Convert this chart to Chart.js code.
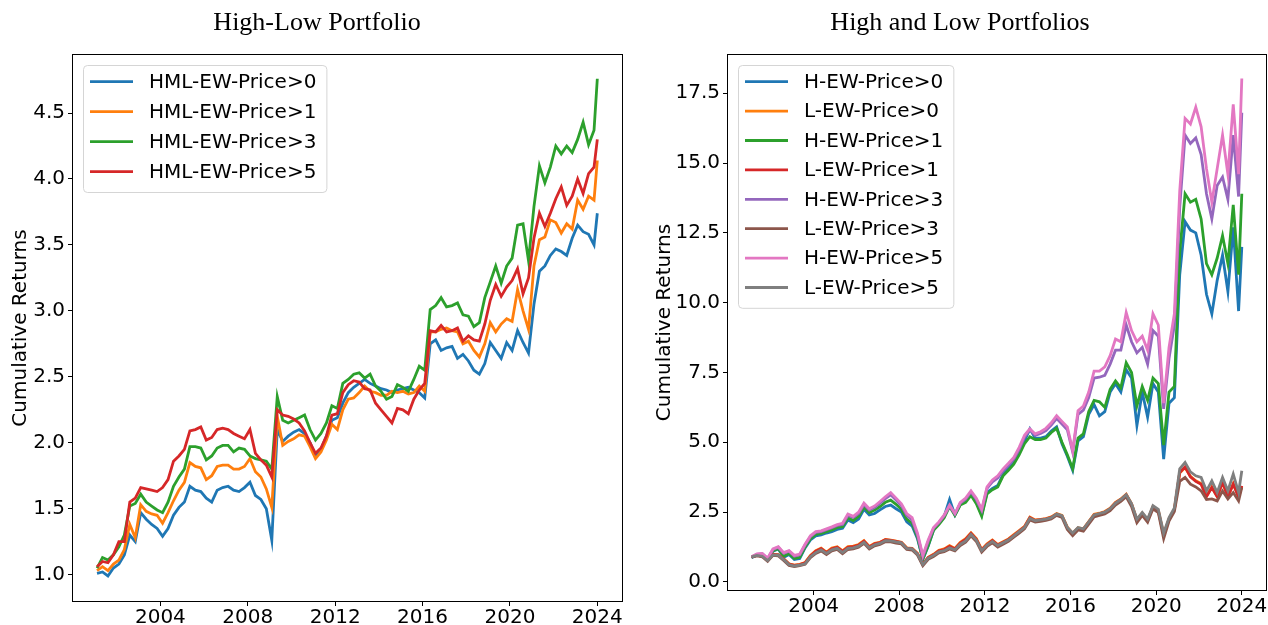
<!DOCTYPE html>
<html>
<head>
<meta charset="utf-8">
<script src="https://cdn.jsdelivr.net/npm/chart.js@4.4.1/dist/chart.umd.min.js"></script>
<style>
  html, body { margin: 0; padding: 0; background: #fff; }
  #wrap { position: relative; width: 1268px; height: 625px; }
  .panel { position: absolute; top: 0; width: 634px; height: 625px; }
</style>
</head>
<body>
<div id="wrap">
  <div class="panel" style="left:0"><canvas id="hmlChart" width="634" height="625"></canvas></div>
  <div class="panel" style="left:634px"><canvas id="hlChart" width="634" height="625"></canvas></div>
</div>
<script>
// quarterly observation dates (decimal years)
const dates = [
  2001.1, 2001.35, 2001.6, 2001.85, 2002.1, 2002.35, 2002.6, 2002.85,
  2003.1, 2003.35, 2003.6, 2003.85, 2004.1, 2004.35, 2004.6, 2004.85,
  2005.1, 2005.35, 2005.6, 2005.85, 2006.1, 2006.35, 2006.6, 2006.85,
  2007.1, 2007.35, 2007.6, 2007.85, 2008.1, 2008.35, 2008.6, 2008.85,
  2009.1, 2009.35, 2009.6, 2009.85, 2010.1, 2010.35, 2010.6, 2010.85,
  2011.1, 2011.35, 2011.6, 2011.85, 2012.1, 2012.35, 2012.6, 2012.85,
  2013.1, 2013.35, 2013.6, 2013.85, 2014.1, 2014.35, 2014.6, 2014.85,
  2015.1, 2015.35, 2015.6, 2015.85, 2016.1, 2016.35, 2016.6, 2016.85,
  2017.1, 2017.35, 2017.6, 2017.85, 2018.1, 2018.35, 2018.6, 2018.85,
  2019.1, 2019.35, 2019.6, 2019.85, 2020.1, 2020.35, 2020.6, 2020.85,
  2021.1, 2021.35, 2021.6, 2021.85, 2022.1, 2022.35, 2022.6, 2022.85,
  2023.1, 2023.35, 2023.6, 2023.85, 2024.0
];

const xTicks = [2004, 2008, 2012, 2016, 2020, 2024];
const hmlYTicks = [1.0, 1.5, 2.0, 2.5, 3.0, 3.5, 4.0, 4.5];
const hlYTicks = [0.0, 2.5, 5.0, 7.5, 10.0, 12.5, 15.0, 17.5];

// left panel: high-minus-low
const hmlLabels = ['HML-EW-Price>0', 'HML-EW-Price>1', 'HML-EW-Price>3', 'HML-EW-Price>5'];
const hmlP0 = [
  1.01, 1.02, 0.99, 1.05, 1.08, 1.15, 1.30, 1.25, 1.47, 1.42, 1.38, 1.35,
  1.29, 1.35, 1.45, 1.51, 1.55, 1.67, 1.64, 1.63, 1.58, 1.55, 1.64, 1.66,
  1.67, 1.64, 1.63, 1.66, 1.70, 1.60, 1.57, 1.50, 1.26, 2.10, 2.01, 2.05,
  2.08, 2.10, 2.07, 2.00, 1.90, 1.95, 2.05, 2.17, 2.19, 2.30, 2.38, 2.42,
  2.45, 2.48, 2.45, 2.43, 2.41, 2.40, 2.38, 2.40, 2.41, 2.42, 2.40, 2.38,
  2.34, 2.75, 2.78, 2.70, 2.72, 2.73, 2.64, 2.67, 2.62, 2.55, 2.52, 2.60,
  2.76, 2.70, 2.64, 2.76, 2.70, 2.85, 2.76, 2.68, 3.05, 3.30, 3.34, 3.42,
  3.47, 3.45, 3.42, 3.55, 3.65, 3.60, 3.58, 3.50, 3.74
];
const hmlP1 = [
  1.03, 1.06, 1.03, 1.08, 1.11, 1.19, 1.38, 1.28, 1.53, 1.48, 1.46, 1.45,
  1.39, 1.47, 1.56, 1.64, 1.70, 1.85, 1.82, 1.81, 1.72, 1.75, 1.82, 1.83,
  1.83, 1.80, 1.80, 1.82, 1.88, 1.78, 1.74, 1.65, 1.51, 2.20, 1.98, 2.01,
  2.03, 2.06, 2.05, 1.97, 1.88, 1.93, 2.02, 2.14, 2.10, 2.25, 2.33, 2.34,
  2.38, 2.43, 2.39, 2.38, 2.36, 2.36, 2.39, 2.38, 2.39, 2.37, 2.38, 2.43,
  2.39, 2.84, 2.84, 2.86, 2.87, 2.85, 2.84, 2.75, 2.77, 2.70, 2.65, 2.75,
  2.91, 2.84, 2.90, 2.94, 2.92, 3.16, 3.00, 2.86, 3.34, 3.54, 3.56, 3.69,
  3.67, 3.59, 3.66, 3.62, 3.84, 3.77, 3.87, 3.84, 4.14
];
const hmlP3 = [
  1.05, 1.13, 1.11, 1.15, 1.21, 1.30, 1.52, 1.54, 1.61, 1.55, 1.52, 1.49,
  1.47, 1.55, 1.67, 1.74, 1.80, 1.97, 1.97, 1.96, 1.87, 1.90, 1.96, 1.98,
  1.98, 1.93, 1.96, 1.95, 1.90, 1.88, 1.87, 1.86, 1.80, 2.35, 2.17, 2.15,
  2.17, 2.19, 2.21, 2.10, 2.02, 2.07, 2.15, 2.28, 2.26, 2.45, 2.48, 2.52,
  2.53, 2.49, 2.52, 2.43, 2.39, 2.33, 2.35, 2.44, 2.42, 2.39, 2.48, 2.58,
  2.55, 3.01, 3.04, 3.10, 3.03, 3.04, 3.06, 2.97, 2.96, 2.88, 2.91, 3.10,
  3.22, 3.34, 3.21, 3.34, 3.40, 3.65, 3.66, 3.38, 3.79, 4.10, 3.97, 4.09,
  4.25, 4.19, 4.25, 4.20, 4.30, 4.43, 4.26, 4.37, 4.76
];
const hmlP5 = [
  1.06, 1.10, 1.09, 1.15, 1.25, 1.25, 1.55, 1.58, 1.66, 1.65, 1.64, 1.63,
  1.66, 1.72, 1.86, 1.90, 1.95, 2.09, 2.10, 2.12, 2.02, 2.04, 2.10, 2.11,
  2.10, 2.07, 2.05, 2.03, 2.10, 1.92, 1.87, 1.83, 1.74, 2.25, 2.21, 2.20,
  2.18, 2.15, 2.09, 2.00, 1.92, 1.96, 2.05, 2.21, 2.22, 2.38, 2.44, 2.47,
  2.46, 2.41, 2.40, 2.30, 2.25, 2.20, 2.15, 2.26, 2.25, 2.22, 2.33, 2.40,
  2.45, 2.85, 2.84, 2.89, 2.84, 2.85, 2.87, 2.77, 2.81, 2.78, 2.77, 2.90,
  3.08, 3.20, 3.11, 3.18, 3.23, 3.32, 3.13, 3.25, 3.55, 3.74, 3.64, 3.74,
  3.85, 3.94, 3.80, 3.87, 4.00, 3.89, 4.04, 4.09, 4.30
];

// right panel: high and low legs
const hlLabels = ['H-EW-Price>0', 'L-EW-Price>0', 'H-EW-Price>1', 'L-EW-Price>1',
                  'H-EW-Price>3', 'L-EW-Price>3', 'H-EW-Price>5', 'L-EW-Price>5'];
const hlH0 = [
  0.87, 0.96, 0.97, 0.79, 1.10, 1.18, 0.88, 0.98, 0.80, 0.84, 1.22, 1.50,
  1.65, 1.68, 1.75, 1.80, 1.88, 1.92, 2.22, 2.12, 2.25, 2.60, 2.40, 2.45,
  2.58, 2.70, 2.75, 2.62, 2.50, 2.15, 2.00, 1.55, 0.80, 1.28, 1.85, 2.10,
  2.35, 2.95, 2.40, 2.78, 2.90, 3.15, 2.85, 2.40, 3.20, 3.35, 3.45, 3.85,
  4.05, 4.28, 4.62, 5.05, 5.48, 5.15, 5.15, 5.20, 5.40, 5.55, 4.95, 4.50,
  4.00, 5.05, 5.20, 6.00, 6.35, 5.95, 6.10, 6.80, 7.10, 6.80, 7.60, 7.30,
  5.60, 6.80, 5.90, 7.10, 6.80, 4.40, 6.40, 6.60, 11.0, 12.9, 12.6, 12.5,
  11.7, 10.3, 9.6, 10.8, 11.7, 10.4, 12.7, 9.7, 12.0
];
const hlL0 = [
  0.91, 0.96, 0.93, 0.77, 0.99, 0.98, 0.83, 0.65, 0.60, 0.63, 0.69, 0.95,
  1.12, 1.21, 1.07, 1.21, 1.26, 1.11, 1.26, 1.28, 1.34, 1.48, 1.27, 1.38,
  1.42, 1.52, 1.50, 1.46, 1.42, 1.22, 1.20, 1.02, 0.64, 0.88, 0.99, 1.13,
  1.18, 1.30, 1.20, 1.42, 1.55, 1.76, 1.55, 1.16, 1.36, 1.50, 1.34, 1.44,
  1.54, 1.69, 1.84, 1.99, 2.32, 2.22, 2.24, 2.27, 2.33, 2.45, 2.38, 1.96,
  1.74, 1.94, 1.90, 2.16, 2.42, 2.46, 2.52, 2.64, 2.85, 2.97, 3.14, 2.80,
  2.22, 2.47, 2.22, 2.70, 2.56, 1.70, 2.26, 2.60, 3.90, 4.10, 3.78, 3.62,
  3.52, 3.08, 3.40, 3.06, 3.56, 3.06, 3.52, 3.05, 3.42
];
const hlH1 = [
  0.88, 0.97, 0.98, 0.80, 1.12, 1.20, 0.92, 1.02, 0.84, 0.88, 1.25, 1.55,
  1.70, 1.74, 1.80, 1.86, 1.95, 1.98, 2.30, 2.20, 2.35, 2.68, 2.48, 2.57,
  2.70, 2.85, 2.93, 2.78, 2.60, 2.25, 2.10, 1.60, 0.82, 1.30, 1.85, 2.05,
  2.30, 2.70, 2.38, 2.75, 2.85, 3.10, 2.80, 2.35, 3.15, 3.30, 3.40, 3.80,
  4.00, 4.22, 4.55, 4.95, 5.20, 5.10, 5.10, 5.15, 5.35, 5.50, 5.00, 4.55,
  4.05, 5.15, 5.30, 6.10, 6.50, 6.45, 6.25, 6.90, 7.20, 6.95, 7.85, 7.50,
  6.30, 7.00, 6.50, 7.30, 7.10, 4.90, 6.80, 7.00, 11.8, 13.9, 13.6, 13.7,
  13.0, 11.4, 11.0, 11.6, 12.4, 11.4, 13.5, 11.0, 13.9
];
const hlL1 = [
  0.90, 0.95, 0.92, 0.76, 0.98, 0.97, 0.82, 0.64, 0.59, 0.62, 0.68, 0.93,
  1.10, 1.19, 1.05, 1.19, 1.24, 1.09, 1.24, 1.26, 1.32, 1.46, 1.25, 1.36,
  1.41, 1.51, 1.49, 1.45, 1.41, 1.21, 1.19, 1.01, 0.63, 0.87, 0.97, 1.11,
  1.16, 1.27, 1.18, 1.39, 1.52, 1.74, 1.53, 1.14, 1.34, 1.48, 1.32, 1.42,
  1.52, 1.67, 1.82, 1.97, 2.30, 2.20, 2.23, 2.26, 2.31, 2.43, 2.36, 1.94,
  1.72, 1.92, 1.88, 2.14, 2.40, 2.44, 2.50, 2.62, 2.83, 2.95, 3.12, 2.78,
  2.20, 2.45, 2.20, 2.68, 2.54, 1.66, 2.24, 2.58, 3.92, 4.12, 3.76, 3.60,
  3.50, 3.05, 3.38, 3.05, 3.56, 3.05, 3.50, 3.04, 3.44
];
const hlH3 = [
  0.89, 0.99, 1.01, 0.84, 1.16, 1.24, 1.02, 1.10, 0.92, 0.97, 1.32, 1.62,
  1.77, 1.80, 1.87, 1.94, 2.02, 2.06, 2.38, 2.31, 2.45, 2.77, 2.57, 2.67,
  2.82, 2.98, 3.12, 2.93, 2.73, 2.38, 2.22, 1.68, 0.90, 1.45, 1.92, 2.12,
  2.37, 2.72, 2.43, 2.82, 2.96, 3.22, 2.95, 2.55, 3.35, 3.58, 3.72, 3.98,
  4.18, 4.40, 4.75, 5.18, 5.45, 5.25, 5.32, 5.42, 5.62, 5.85, 5.65, 5.45,
  4.65, 6.00, 6.15, 6.60, 7.30, 7.33, 7.40, 7.80, 8.30, 8.30, 9.20, 8.60,
  8.20, 8.40, 7.80, 9.00, 8.80, 6.20, 8.00, 9.20, 13.4, 16.0, 15.7, 15.9,
  15.3, 13.9, 13.0, 14.2, 14.5, 13.7, 16.0, 13.8, 16.8
];
const hlL3 = [
  0.89, 0.93, 0.90, 0.74, 0.95, 0.93, 0.77, 0.59, 0.55, 0.58, 0.63, 0.87,
  1.02, 1.11, 0.98, 1.11, 1.16, 1.01, 1.16, 1.18, 1.24, 1.38, 1.18, 1.29,
  1.34, 1.44, 1.43, 1.39, 1.36, 1.16, 1.14, 0.96, 0.58, 0.81, 0.91, 1.04,
  1.08, 1.18, 1.11, 1.30, 1.42, 1.65, 1.45, 1.07, 1.27, 1.40, 1.25, 1.35,
  1.45, 1.60, 1.75, 1.90, 2.22, 2.14, 2.17, 2.20, 2.25, 2.38, 2.31, 1.88,
  1.66, 1.86, 1.82, 2.07, 2.33, 2.38, 2.43, 2.55, 2.75, 2.88, 3.05, 2.70,
  2.12, 2.38, 2.14, 2.62, 2.48, 1.55, 2.18, 2.52, 3.60, 3.74, 3.50, 3.40,
  3.26, 2.95, 2.97, 2.90, 3.26, 2.97, 3.20, 2.90, 3.38
];
const hlH5 = [
  0.90, 1.00, 1.02, 0.85, 1.18, 1.26, 1.05, 1.12, 0.95, 1.00, 1.35, 1.65,
  1.80, 1.83, 1.90, 1.97, 2.05, 2.10, 2.43, 2.35, 2.50, 2.82, 2.62, 2.72,
  2.88, 3.05, 3.20, 3.00, 2.80, 2.45, 2.30, 1.75, 0.95, 1.50, 1.95, 2.15,
  2.40, 2.75, 2.45, 2.85, 3.00, 3.26, 3.00, 2.60, 3.40, 3.65, 3.80, 4.05,
  4.25, 4.46, 4.82, 5.25, 5.48, 5.30, 5.38, 5.50, 5.70, 5.95, 5.75, 5.55,
  4.70, 6.13, 6.30, 6.80, 7.55, 7.55, 7.70, 8.10, 8.70, 8.60, 9.65, 9.00,
  8.60, 8.80, 8.30, 9.60, 9.20, 6.40, 8.40, 9.60, 14.0, 16.6, 16.4, 17.0,
  16.3, 14.8, 13.6, 14.8, 16.0, 14.6, 17.1, 14.6, 18.03
];
const hlL5 = [
  0.90, 0.95, 0.92, 0.76, 0.97, 0.96, 0.80, 0.62, 0.57, 0.60, 0.65, 0.90,
  1.05, 1.15, 1.02, 1.15, 1.20, 1.05, 1.20, 1.22, 1.28, 1.42, 1.22, 1.33,
  1.38, 1.48, 1.47, 1.43, 1.40, 1.20, 1.18, 1.00, 0.62, 0.85, 0.95, 1.08,
  1.12, 1.22, 1.15, 1.35, 1.47, 1.70, 1.50, 1.12, 1.32, 1.45, 1.30, 1.40,
  1.50, 1.65, 1.80, 1.95, 2.28, 2.19, 2.22, 2.25, 2.30, 2.43, 2.37, 1.95,
  1.75, 1.95, 1.90, 2.15, 2.40, 2.45, 2.50, 2.62, 2.82, 2.95, 3.12, 2.80,
  2.25, 2.49, 2.25, 2.73, 2.60, 1.75, 2.30, 2.65, 4.05, 4.28, 3.94, 3.80,
  3.74, 3.26, 3.62, 3.20, 3.74, 3.26, 3.86, 3.20, 3.98
];

const tab10 = ['#1f77b4', '#ff7f0e', '#2ca02c', '#d62728', '#9467bd', '#8c564b', '#e377c2', '#7f7f7f'];
const tickFont = { family: 'DejaVu Sans', size: 20 };

function toSeries(labels, series) {
  return series.map((vals, i) => ({
    label: labels[i],
    data: vals.map((v, j) => ({ x: dates[j], y: v })),
    borderColor: tab10[i],
    backgroundColor: tab10[i],
    borderWidth: 2.8,
    pointRadius: 0,
    tension: 0,
    fill: false,
    order: series.length - i   // later series on top, like matplotlib
  }));
}

// box around the plot area
const frame = {
  id: 'frame',
  afterDraw(chart) {
    const a = chart.chartArea, ctx = chart.ctx;
    ctx.save();
    ctx.strokeStyle = '#000';
    ctx.lineWidth = 1;
    ctx.strokeRect(Math.round(a.left) - 0.5, Math.round(a.top) - 0.5,
                   Math.round(a.right - a.left) + 1, Math.round(a.bottom - a.top) + 1);
    ctx.restore();
  }
};

// legend in the upper-left corner of the plot area
function boxLegend(rowGap) {
  return {
    id: 'boxLegend',
    afterDraw(chart) {
      const a = chart.chartArea, ctx = chart.ctx;
      const sets = chart.data.datasets;
      ctx.save();
      ctx.font = '20px "DejaVu Sans"';
      const textW = Math.max(...sets.map(d => ctx.measureText(d.label).width));
      const x0 = a.left + 10, y0 = a.top + 10;
      const w = 66 + textW + 10;
      const h = 16.7 + (sets.length - 1) * rowGap + 20.3;
      ctx.beginPath();
      ctx.roundRect(x0 + 0.5, y0 + 0.5, w, h, 4);
      ctx.fillStyle = 'rgba(255,255,255,0.8)';
      ctx.fill();
      ctx.strokeStyle = '#d5d5d5';
      ctx.lineWidth = 1;
      ctx.stroke();
      sets.forEach((d, i) => {
        const y = y0 + 16.7 + i * rowGap;
        ctx.beginPath();
        ctx.moveTo(x0 + 7, y);
        ctx.lineTo(x0 + 50, y);
        ctx.strokeStyle = d.borderColor;
        ctx.lineWidth = 2.8;
        ctx.stroke();
        ctx.fillStyle = '#000';
        ctx.textAlign = 'left';
        ctx.textBaseline = 'middle';
        ctx.fillText(d.label, x0 + 66, y + 1);
      });
      ctx.restore();
    }
  };
}

function panelTitle(text, cx) {
  return {
    id: 'panelTitle',
    afterDraw(chart) {
      const ctx = chart.ctx;
      ctx.save();
      ctx.font = '26px "Liberation Serif"';
      ctx.fillStyle = '#000';
      ctx.textAlign = 'center';
      ctx.textBaseline = 'middle';
      ctx.fillText(text, cx, 23);
      ctx.restore();
    }
  };
}

function makeOptions(opt) {
  return {
    responsive: false,
    animation: false,
    layout: { padding: { left: 0, right: opt.padRight, top: 55, bottom: 0 } },
    plugins: { legend: { display: false }, tooltip: { enabled: false }, title: { display: false } },
    scales: {
      x: {
        type: 'linear',
        min: 2000.0,
        max: 2025.13,
        afterFit: s => { s.height = opt.xHeight; },
        afterBuildTicks: s => { s.ticks = xTicks.map(v => ({ value: v })); },
        grid: { drawOnChartArea: false, drawTicks: true, tickLength: 5, color: '#000' },
        border: { display: false },
        ticks: { font: tickFont, color: '#000', padding: 0, maxRotation: 0, autoSkip: false,
                 callback: v => String(v) }
      },
      y: {
        min: opt.yMin,
        max: opt.yMax,
        afterFit: s => { s.width = opt.yWidth; },
        afterBuildTicks: s => { s.ticks = opt.yTicks.map(v => ({ value: v })); },
        grid: { drawOnChartArea: false, drawTicks: true, tickLength: 5, color: '#000' },
        border: { display: false },
        ticks: { font: tickFont, color: '#000', padding: 3, callback: v => Number(v).toFixed(1) },
        title: { display: true, text: 'Cumulative Returns', font: tickFont, color: '#000',
                 padding: { top: opt.titlePad, bottom: 0 } }
      }
    }
  };
}

new Chart(document.getElementById('hmlChart'), {
  type: 'line',
  data: { datasets: toSeries(hmlLabels, [hmlP0, hmlP1, hmlP3, hmlP5]) },
  options: makeOptions({ padRight: 12, xHeight: 24, yWidth: 73, yMin: 0.80, yMax: 4.94,
                         yTicks: hmlYTicks, titlePad: 9 }),
  plugins: [frame, boxLegend(30), panelTitle('High-Low Portfolio', 317)]
});

new Chart(document.getElementById('hlChart'), {
  type: 'line',
  data: { datasets: toSeries(hlLabels, [hlH0, hlL0, hlH1, hlL1, hlH3, hlL3, hlH5, hlL5]) },
  options: makeOptions({ padRight: 2, xHeight: 35, yWidth: 94, yMin: -0.29, yMax: 18.87,
                         yTicks: hlYTicks, titlePad: 19 }),
  plugins: [frame, boxLegend(29.4), panelTitle('High and Low Portfolios', 326)]
});
</script>
</body>
</html>
